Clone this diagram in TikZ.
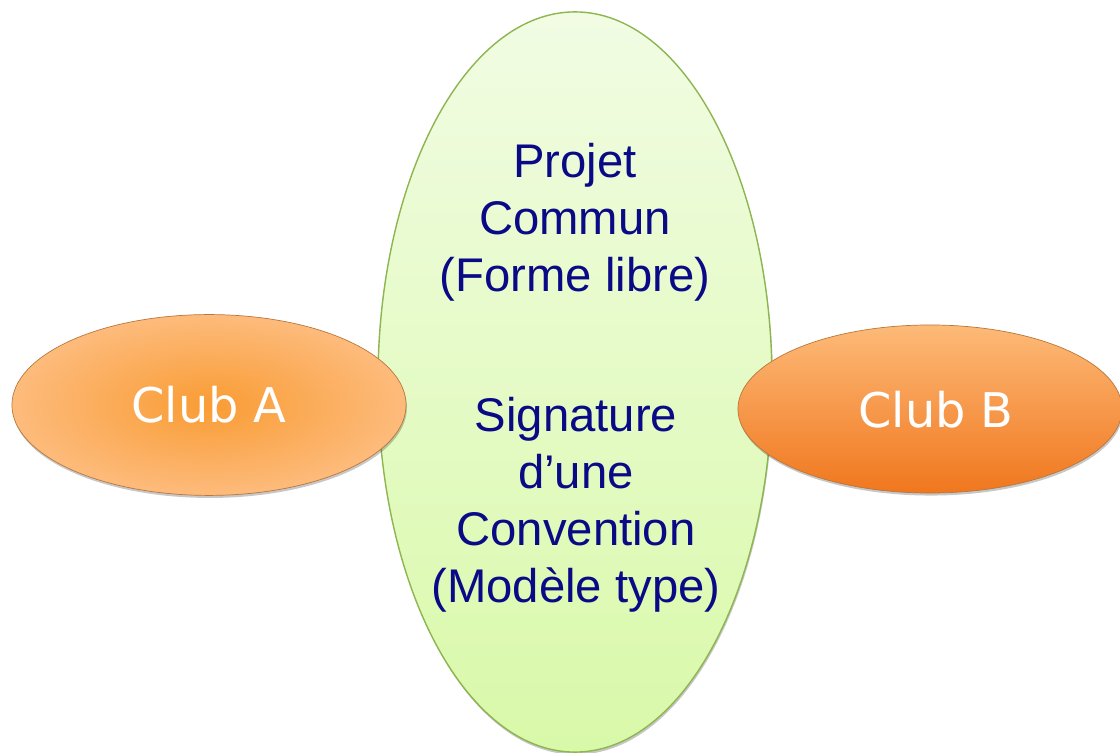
\documentclass[tikz,border=0pt]{standalone}
\usepackage{fontspec}
\setmainfont{Liberation Sans}
\newfontfamily\clubfont{DejaVu Sans}
\usetikzlibrary{shapes.geometric,shadows}

\definecolor{projetfill}{HTML}{F1FCE3}
\definecolor{projetfilldark}{HTML}{D9F9A9}
\definecolor{projetdraw}{HTML}{8DB550}
\definecolor{clubdraw}{HTML}{B9773A}
\definecolor{clubAin}{HTML}{F99C34}
\definecolor{clubAout}{HTML}{FDBB7C}
\definecolor{clubBtop}{HTML}{FDBA78}
\definecolor{clubBbot}{HTML}{F0771E}
\definecolor{projettext}{HTML}{0A0A86}

\tikzset{
  soft shadow/.style={drop shadow={shadow xshift=0.6pt,shadow yshift=-1.8pt,opacity=0.22,fill=black}},
  club/.style={ellipse,inner sep=0pt,draw=clubdraw,line width=0.5pt,soft shadow,
    text=white,font=\clubfont\fontsize{34}{40}\selectfont},
  projettxt/.style={align=center,text=projettext,font=\fontsize{33.6}{40.5}\selectfont}
}

\begin{document}
\begin{tikzpicture}[x=0.025cm,y=-0.025cm]
			%%%%% START %%%%%
			\useasboundingbox (0,0) rectangle (1120,753);
			
			% projet commun
			\node[ellipse,inner sep=0pt,minimum width=9.85cm,minimum height=18.5cm,
			  top color=projetfill,bottom color=projetfilldark,draw=projetdraw,line width=1pt,soft shadow]
			  (projet) at (575,382) {};
			\node[projettxt] (forme) at (575,222) {Projet\\Commun\\(Forme libre)};
			\node[projettxt] (convention) at (576,505) {Signature\\d’une\\Convention\\(Modèle type)};
			
			% clubs
			\node[club,minimum width=9.85cm,minimum height=4.52cm,inner color=clubAin,outer color=clubAout]
			  (clubA) at (209,405) {Club A};
			\node[club,minimum width=9.6cm,minimum height=4.2cm,top color=clubBtop,bottom color=clubBbot,
			  text depth=0pt]
			  (clubB) at (930,409) {\hspace*{0.3cm}Club B};
			%%%%% END %%%%%
		\end{tikzpicture}
\end{document}
